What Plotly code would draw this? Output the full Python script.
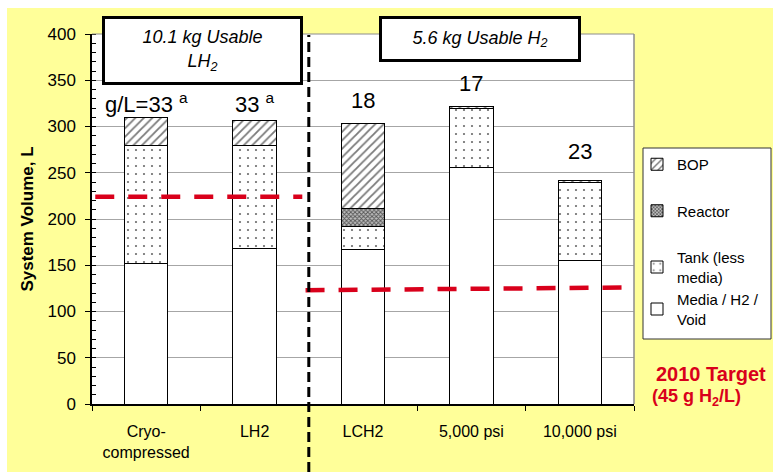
import plotly.graph_objects as go

# Storage system volume breakdown (litres) per configuration
categories = ["Cryo-<br>compressed", "LH2", "LCH2", "5,000 psi", "10,000 psi"]
media_h2_void = [152, 168, 167, 256, 155]
tank_less_media = [128, 112, 25, 64, 85]
reactor = [None, None, 19, None, None]
bop = [30, 26, 92, 1.5, 2]

# Gravimetric density labels (g H2 / L) and where they sit
density_labels = ["g/L=33 <sup>a</sup>", "33 <sup>a</sup>", "18", "17", "23"]
label_y = [325, 325, 328, 347, 273]

# 2010 target volume (45 g H2/L) for each usable-H2 group
target_lh2 = 224
target_h2 = [123, 126]

W, H = 773, 472
L, R, T, B = 92, 139, 34, 68
PW, PH = W - L - R, H - T - B


def px(xp):
    return (xp - L) / PW


def py(yp):
    return (H - B - yp) / PH


FONT = "Arial, Liberation Sans, sans-serif"

fig = go.Figure()

# (legend name, values, fill pattern, legend group, legend rank), bottom segment first
series = [
    ("Media / H2 /<br>Void", media_h2_void, dict(shape=""), "tank", 4),
    ("Tank (less<br>media)", tank_less_media,
     dict(shape=".", fgcolor="#6b6b6b", bgcolor="white", size=8, solidity=0.06,
          fillmode="replace"), "tank", 3),
    ("Reactor", reactor,
     dict(shape="x", fgcolor="#555555", bgcolor="#bdbdbd", size=3, solidity=0.5,
          fillmode="replace"), "reactor", 2),
    ("BOP", bop,
     dict(shape="/", fgcolor="#7a7a7a", bgcolor="white", size=6, solidity=0.3,
          fillmode="replace"), "bop", 1),
]

for name, vals, pat, grp, rank in series:
    fig.add_trace(go.Bar(
        x=categories, y=vals, name=name, legendgroup=grp, legendrank=rank,
        width=0.4,
        marker=dict(color="white", line=dict(color="black", width=1), pattern=pat),
    ))

# Density labels above the bars
for cat, txt, yv in zip(categories, density_labels, label_y):
    fig.add_annotation(x=cat, y=yv, text=txt, showarrow=False,
                       font=dict(family=FONT, size=22, color="black"),
                       xanchor="center", yanchor="middle")

# Target lines
red = "#D9001B"
fig.add_shape(type="line", xref="x", yref="y", x0=-0.47, x1=1.44,
              y0=target_lh2, y1=target_lh2,
              line=dict(color=red, width=4.5, dash="19px,14px"))
fig.add_shape(type="line", xref="x", yref="y", x0=1.47, x1=4.48,
              y0=target_h2[0], y1=target_h2[1],
              line=dict(color=red, width=4.5, dash="19px,14px"))

# Group divider
fig.add_shape(type="line", xref="x", yref="paper", x0=1.5, x1=1.5,
              y0=py(H), y1=py(35),
              line=dict(color="black", width=3, dash="10px,5px"))

# Plot-area frame (top and right)
fig.add_shape(type="line", xref="paper", yref="paper", x0=0, x1=1, y0=1, y1=1,
              line=dict(color="#8c8c8c", width=1))
fig.add_shape(type="line", xref="paper", yref="paper", x0=1, x1=1, y0=0, y1=1,
              line=dict(color="#8c8c8c", width=1.5))

# White margins around the yellow panel
fig.add_shape(type="rect", xref="paper", yref="paper", x0=px(0), x1=px(W),
              y0=py(8), y1=py(0), fillcolor="white", line=dict(width=0), layer="below")
fig.add_shape(type="rect", xref="paper", yref="paper", x0=px(0), x1=px(7),
              y0=py(H), y1=py(0), fillcolor="white", line=dict(width=0), layer="below")

# Legend frame
fig.add_shape(type="rect", xref="paper", yref="paper", x0=px(643), x1=px(771),
              y0=py(339), y1=py(148), fillcolor="white",
              line=dict(color="#333333", width=1))

# Group header boxes
fig.add_annotation(xref="paper", yref="paper", x=px(202.2), y=py(50.4),
                   text="<i>10.1 kg Usable<br>LH<sub>2</sub></i>", showarrow=False,
                   font=dict(family=FONT, size=18, color="black"),
                   width=195, height=63, borderpad=0,
                   bgcolor="white", bordercolor="black", borderwidth=3,
                   xanchor="center", yanchor="middle")
fig.add_annotation(xref="paper", yref="paper", x=px(479.8), y=py(39),
                   text="<i>5.6 kg Usable H<sub>2</sub></i>", showarrow=False,
                   font=dict(family=FONT, size=18, color="black"),
                   width=196, height=40, borderpad=0,
                   bgcolor="white", bordercolor="black", borderwidth=3,
                   xanchor="center", yanchor="middle")

# Target caption
fig.add_annotation(xref="paper", yref="paper", x=px(711), y=py(374),
                   text="<b>2010 Target</b>", showarrow=False,
                   font=dict(family=FONT, size=20, color=red),
                   xanchor="center", yanchor="middle")
fig.add_annotation(xref="paper", yref="paper", x=px(650), y=py(397),
                   text="<b>(45 g H<sub>2</sub>/L)</b>", showarrow=False,
                   font=dict(family=FONT, size=18, color=red),
                   xanchor="left", yanchor="middle")

fig.update_layout(
    width=W, height=H,
    margin=dict(l=L, r=R, t=T, b=B, autoexpand=False),
    paper_bgcolor="#FFFF99",
    plot_bgcolor="white",
    barmode="stack",
    bargap=0.6,
    font=dict(family=FONT, color="black"),
    legend=dict(
        x=px(637), y=py(148), xanchor="left", yanchor="top",
        bgcolor="rgba(0,0,0,0)", borderwidth=0,
        font=dict(family=FONT, size=15, color="black"),
        traceorder="grouped", tracegroupgap=24,
        itemwidth=30,
    ),
    xaxis=dict(
        showline=True, linecolor="black", linewidth=1.5,
        ticks="outside", ticklen=5, tickcolor="black", tickson="boundaries",
        tickfont=dict(family=FONT, size=16, color="black"),
        showgrid=False, range=[-0.5, 4.5], fixedrange=True,
        ticklabelstandoff=12,
    ),
    yaxis=dict(
        range=[0, 400], dtick=50,
        showline=True, linecolor="black", linewidth=1.5,
        ticks="outside", ticklen=5, tickcolor="black",
        tickfont=dict(family=FONT, size=17, color="black"),
        ticklabelstandoff=6,
        showgrid=True, gridcolor="#a6a6a6", gridwidth=1,
        zeroline=False,
        minor=dict(ticks="inside", dtick=10, ticklen=4, tickcolor="black", showgrid=False),
        title=dict(text="<b>System Volume, L</b>", standoff=10,
                   font=dict(family=FONT, size=17, color="black")),
    ),
)

fig.write_html("out.html")
